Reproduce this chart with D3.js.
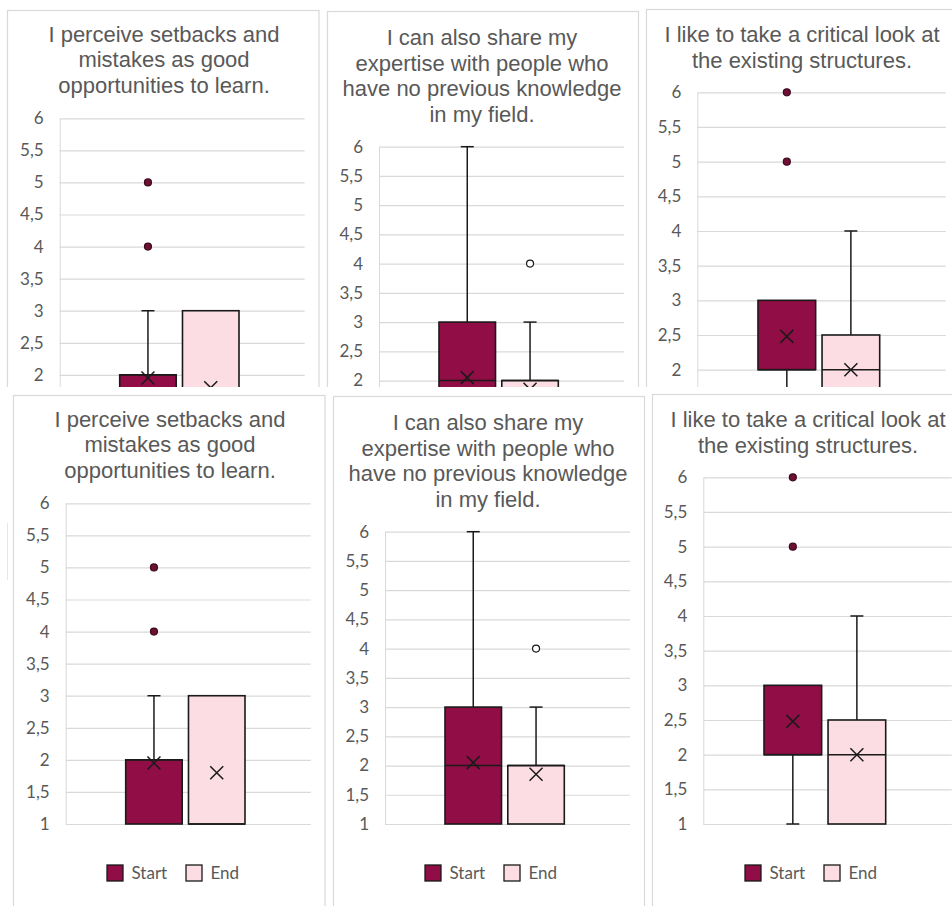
<!DOCTYPE html>
<html><head><meta charset="utf-8">
<script src="https://cdn.jsdelivr.net/npm/d3@7"></script>
<style>html,body{margin:0;padding:0;background:#fff;} svg{display:block}</style>
</head><body>
<svg id="c" width="952" height="906"></svg>
<script>
// ---------- data ----------
const titles = [
  ["I perceive setbacks and", "mistakes as good", "opportunities to learn."],
  ["I can also share my", "expertise with people who", "have no previous knowledge", "in my field."],
  ["I like to take a critical look at", "the existing structures."]
];
const categories = ["Start", "End"];
const yTicks = [1, 1.5, 2, 2.5, 3, 3.5, 4, 4.5, 5, 5.5, 6];
const yTickLabels = ["1", "1,5", "2", "2,5", "3", "3,5", "4", "4,5", "5", "5,5", "6"];

const startMin = [1, 1, 1];
const startQ1 = [1, 1, 2];
const startMedian = [2, 2, 2];
const startQ3 = [2, 3, 3];
const startMax = [3, 6, 3];
const startMean = [1.95, 2.05, 2.48];
const startOutliers = [[4, 5], [], [5, 6]];

const endMin = [1, 1, 1];
const endQ1 = [1, 1, 1];
const endMedian = [1, 2, 2];
const endQ3 = [3, 2, 2.5];
const endMax = [3, 3, 4];
const endMean = [1.8, 1.85, 2.0];
const endOutliers = [[], [4], []];

// ---------- layout / style ----------
const layout = [
  {fx: 13.5, fy: 395.5, fr: 325, tcx: 170, ty: 426.5, lh: 25.6, pl: 65.7, pr: 310.7, y6: 503.3, y1: 824, bl: 125.7, br: 245},
  {fx: 333.5, fy: 396.5, fr: 644.5, tcx: 488, ty: 430, lh: 25.7, pl: 385, pr: 630, y6: 531.7, y1: 824, bl: 445, br: 564.3},
  {fx: 652.5, fy: 394.5, fr: 980, tcx: 808, ty: 426.5, lh: 26, pl: 703.3, pr: 951.7, y6: 477.3, y1: 824, bl: 764, br: 885.7}
];
const colors = {Start: "#900d45", End: "#fcdde4"};
const outlierFill = {Start: "#6e0f33", End: "#ffffff"};
const ink = "#1a1a1a";
const textCol = "#595959";
const titleFont = "'Liberation Sans', Arial, sans-serif";
const labelFont = "Lato, Carlito, Calibri, sans-serif";
const topShift = {dx: -6, dy: -385}, topCut = 387;

const svg = d3.select("#c");

function seriesStats(cat, i) {
  if (cat === "Start") return {min: startMin[i], q1: startQ1[i], med: startMedian[i], q3: startQ3[i], max: startMax[i], mean: startMean[i], out: startOutliers[i]};
  return {min: endMin[i], q1: endQ1[i], med: endMedian[i], q3: endQ3[i], max: endMax[i], mean: endMean[i], out: endOutliers[i]};
}

// cutY: texts lying wholly below this (panel coordinates) are not drawn
function drawPanel(g, i, cutY) {
  const L = layout[i];
  g.append("rect").attr("x", L.fx).attr("y", L.fy).attr("width", L.fr - L.fx).attr("height", 600)
    .attr("fill", "#fff").attr("stroke", "#d9d9d9").attr("stroke-width", 1.2);

  titles[i].forEach((s, k) => g.append("text").attr("text-anchor", "middle").attr("font-family", titleFont)
    .attr("font-size", 22).attr("fill", textCol).attr("x", L.tcx).attr("y", L.ty + k * L.lh).text(s));

  const y = d3.scaleLinear().domain([1, 6]).range([L.y1, L.y6]);
  const x = d3.scaleBand().domain(categories).range([L.bl, L.br]).paddingInner(0.1).paddingOuter(0);

  const ax = g.append("g").attr("transform", `translate(${L.pl},0)`)
    .call(d3.axisLeft(y).tickValues(yTicks).tickFormat((d, k) => yTickLabels[k])
      .tickSize(-(L.pr - L.pl)).tickSizeOuter(0).tickPadding(16));
  ax.select(".domain").attr("stroke", "#d9d9d9");
  ax.selectAll(".tick line").attr("stroke", "#d9d9d9").attr("stroke-width", 1.2);
  ax.selectAll(".tick text").attr("font-family", labelFont).attr("font-size", 17).attr("fill", textCol);
  if (cutY !== undefined) ax.selectAll(".tick").filter(d => y(d) - 7 > cutY).select("text").remove();

  const bw = x.bandwidth();
  categories.forEach(cat => {
    const s = seriesStats(cat, i);
    const cx = x(cat) + bw / 2;
    const wg = g.append("g").attr("stroke", ink).attr("stroke-width", 1.5);
    if (s.max > s.q3) {
      wg.append("line").attr("x1", cx).attr("x2", cx).attr("y1", y(s.q3)).attr("y2", y(s.max));
      wg.append("line").attr("x1", cx - 6.5).attr("x2", cx + 6.5).attr("y1", y(s.max)).attr("y2", y(s.max));
    }
    if (s.min < s.q1) {
      wg.append("line").attr("x1", cx).attr("x2", cx).attr("y1", y(s.q1)).attr("y2", y(s.min));
      wg.append("line").attr("x1", cx - 6.5).attr("x2", cx + 6.5).attr("y1", y(s.min)).attr("y2", y(s.min));
    }
    g.append("rect").attr("x", x(cat)).attr("y", y(s.q3)).attr("width", bw).attr("height", y(s.q1) - y(s.q3))
      .attr("fill", colors[cat]).attr("stroke", ink).attr("stroke-width", 1.6);
    g.append("line").attr("x1", x(cat)).attr("x2", x(cat) + bw).attr("y1", y(s.med)).attr("y2", y(s.med))
      .attr("stroke", ink).attr("stroke-width", 1.5);
    const my = y(s.mean), r = 6.5;
    g.append("path").attr("d", `M${cx - r},${my - r}L${cx + r},${my + r}M${cx - r},${my + r}L${cx + r},${my - r}`)
      .attr("stroke", ink).attr("stroke-width", 1.5).attr("fill", "none");
    s.out.forEach(v => {
      g.append("circle").attr("cx", cx).attr("cy", y(v)).attr("r", 3.5)
        .attr("fill", outlierFill[cat]).attr("stroke", cat === "Start" ? "#3a0a1c" : ink).attr("stroke-width", 1.2);
    });
  });

  // legend
  const lx = L.tcx - 63, ly = 873;
  if (cutY !== undefined && ly - 10 > cutY) return;
  categories.forEach((cat, k) => {
    const ox = lx + k * 79;
    g.append("rect").attr("x", ox).attr("y", ly - 8).attr("width", 16).attr("height", 16)
      .attr("fill", colors[cat]).attr("stroke", ink).attr("stroke-width", 1.3);
    g.append("text").attr("x", ox + 24.5).attr("y", ly + 6).attr("font-family", labelFont)
      .attr("font-size", 17).attr("fill", textCol).text(cat);
  });
}

// top row: the same panels, shifted and cut off
svg.append("defs").append("clipPath").attr("id", "topclip")
  .append("rect").attr("x", 0).attr("y", 0).attr("width", 952).attr("height", topCut);
const topRow = svg.append("g").attr("clip-path", "url(#topclip)")
  .append("g").attr("transform", `translate(${topShift.dx},${topShift.dy})`);
[0, 1, 2].forEach(i => drawPanel(topRow.append("g"), i, topCut - topShift.dy));

// bottom row
svg.append("rect").attr("x", 0).attr("y", topCut).attr("width", 952).attr("height", 906 - topCut).attr("fill", "#fff");
svg.append("line").attr("x1", 7.5).attr("x2", 7.5).attr("y1", 523).attr("y2", 580).attr("stroke", "#e6e6e6");
[0, 1, 2].forEach(i => drawPanel(svg.append("g"), i));
</script>
</body></html>
